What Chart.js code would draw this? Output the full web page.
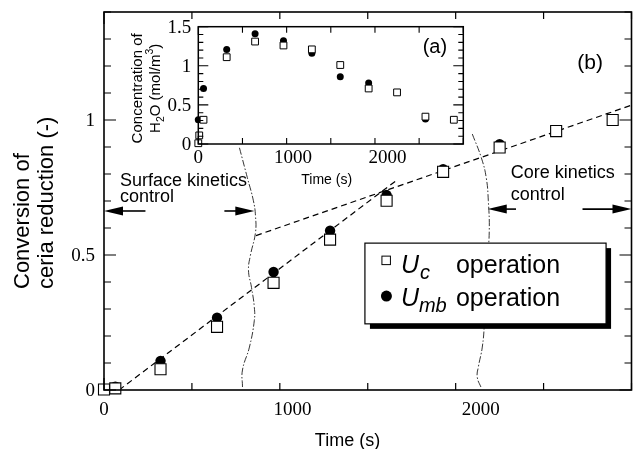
<!DOCTYPE html>
<html>
<head>
<meta charset="utf-8">
<script src="https://cdn.jsdelivr.net/npm/chart.js@4.4.0/dist/chart.umd.min.js"></script>
<style>
  html, body { margin: 0; padding: 0; background: #fff; }
  #wrap { position: relative; width: 633px; height: 449px; }
  #wrap canvas { position: absolute; left: 0; top: 0; }
</style>
</head>
<body>
<div id="wrap">
  <canvas id="main-chart" width="633" height="449"></canvas>
  <canvas id="inset-chart" width="633" height="449"></canvas>
</div>
<script>
// (b) conversion of ceria reduction vs time
const timeUc = [0, 60, 300, 600, 900, 1200, 1500, 1800, 2100, 2400, 2700];
const convUc = [0.002, 0.006, 0.077, 0.234, 0.397, 0.557, 0.701, 0.808, 0.898, 0.959, 1.0];
const timeUmb = [60, 300, 600, 900, 1200, 1500, 1800, 2100];
const convUmb = [0.012, 0.108, 0.268, 0.437, 0.59, 0.722, 0.818, 0.91];

// dashed fits for the two regimes
const surfaceFitTime = [80, 1550];
const surfaceFitConv = [0, 0.775];
const coreFitTime = [807, 2800];
const coreFitConv = [0.572, 1.055];

// dash-dot borders between the regimes
const surfaceEdgeTime = [719, 761, 793, 804, 804, 777, 767, 783, 798, 798, 772, 735, 735];
const surfaceEdgeConv = [0.897, 0.786, 0.701, 0.646, 0.583, 0.498, 0.443, 0.38, 0.306, 0.258, 0.159, 0.074, 0.011];
const coreEdgeTime = [1955, 2003, 2029, 2040, 2045, 2035, 2024, 2019, 2008, 1987, 1981, 2003];
const coreEdgeConv = [0.948, 0.86, 0.786, 0.701, 0.59, 0.48, 0.369, 0.247, 0.159, 0.085, 0.048, 0.007];

// (a) H2O concentration
const insetTimeUc = [0, 10, 55, 300, 600, 900, 1200, 1500, 1800, 2100, 2400, 2700];
const insetH2oUc = [0.01, 0.11, 0.31, 1.11, 1.31, 1.26, 1.21, 1.01, 0.71, 0.66, 0.35, 0.31];
const insetTimeUmb = [0, 55, 300, 600, 900, 1200, 1500, 1800, 2400];
const insetH2oUmb = [0.31, 0.71, 1.21, 1.41, 1.32, 1.16, 0.86, 0.78, 0.32];

// tick labels
const mainXLabels = [0, 1000, 2000];
const mainYLabels = [0, 0.5, 1];
const insetXLabels = [0, 1000, 2000];
const insetYLabels = [0, 0.5, 1, 1.5];

const SANS = '"Liberation Sans", Arial, sans-serif';
const SERIF = '"Liberation Serif", "Times New Roman", serif';

function pairs(xs, ys) {
  return xs.map((x, i) => ({ x, y: ys[i] }));
}

function isMultiple(v, step) {
  const r = v / step;
  return Math.abs(r - Math.round(r)) < 1e-6;
}

function lineSet(xs, ys, dash, width) {
  return {
    data: pairs(xs, ys),
    showLine: true,
    pointRadius: 0,
    borderColor: "#000",
    borderWidth: width,
    borderDash: dash,
    tension: 0,
  };
}

// box, inward ticks on all four sides and the tick labels
const framePlugin = {
  id: "frame",
  afterDatasetsDraw(chart, args, o) {
    const { ctx, chartArea: a } = chart;
    const sx = chart.scales.x;
    const sy = chart.scales.y;
    ctx.save();
    ctx.strokeStyle = "#000";
    ctx.lineWidth = o.tickWidth;
    ctx.beginPath();
    sx.ticks.forEach((t) => {
      const px = sx.getPixelForValue(t.value);
      const len = isMultiple(t.value, o.xMajor) ? o.xLen[0] : o.xLen[1];
      ctx.moveTo(px, a.bottom);
      ctx.lineTo(px, a.bottom - len);
      ctx.moveTo(px, a.top);
      ctx.lineTo(px, a.top + len);
    });
    sy.ticks.forEach((t) => {
      const py = sy.getPixelForValue(t.value);
      const len = isMultiple(t.value, o.yMajor) ? o.yLen[0] : o.yLen[1];
      ctx.moveTo(a.left, py);
      ctx.lineTo(a.left + len, py);
      ctx.moveTo(a.right, py);
      ctx.lineTo(a.right - len, py);
    });
    ctx.stroke();
    ctx.lineWidth = o.boxWidth;
    ctx.strokeRect(a.left, a.top, a.right - a.left, a.bottom - a.top);

    ctx.fillStyle = "#000";
    ctx.font = o.font;
    ctx.textAlign = "center";
    ctx.textBaseline = "alphabetic";
    o.xLabels.forEach((v) => {
      ctx.fillText(String(v), sx.getPixelForValue(v), a.bottom + o.xLabelGap);
    });
    ctx.textAlign = "right";
    ctx.textBaseline = "middle";
    o.yLabels.forEach((v) => {
      ctx.fillText(String(v), a.left - o.yLabelGap, sy.getPixelForValue(v) + 1);
    });
    ctx.restore();
  },
};

function drawArrow(ctx, x0, x1, y) {
  const dir = Math.sign(x1 - x0);
  const head = 19;
  const half = 4.5;
  ctx.beginPath();
  ctx.moveTo(x0, y);
  ctx.lineTo(x1 - dir * head * 0.7, y);
  ctx.stroke();
  ctx.beginPath();
  ctx.moveTo(x1, y);
  ctx.lineTo(x1 - dir * head, y - half);
  ctx.lineTo(x1 - dir * head, y + half);
  ctx.closePath();
  ctx.fill();
}

function rotatedText(ctx, str, x, y, align) {
  ctx.save();
  ctx.translate(x, y);
  ctx.rotate(-Math.PI / 2);
  ctx.textAlign = align;
  ctx.fillText(str, 0, 0);
  ctx.restore();
}

// arrows, regime names, panel tag, axis titles and the legend
const mainNotesPlugin = {
  id: "mainNotes",
  afterDraw(chart) {
    const { ctx } = chart;
    const sx = chart.scales.x;
    const sy = chart.scales.y;
    const X = (v) => sx.getPixelForValue(v);
    const Y = (v) => sy.getPixelForValue(v);
    ctx.save();
    ctx.fillStyle = "#000";
    ctx.strokeStyle = "#000";
    ctx.lineWidth = 1.6;

    drawArrow(ctx, X(220), X(0), Y(0.663));
    drawArrow(ctx, X(639), X(798), Y(0.663));
    drawArrow(ctx, X(2187), X(2037), Y(0.67));
    drawArrow(ctx, X(2540), X(2800), Y(0.67));

    ctx.font = "18px " + SANS;
    ctx.textAlign = "left";
    ctx.textBaseline = "alphabetic";
    ctx.fillText("Surface kinetics", X(85), Y(0.756));
    ctx.fillText("control", X(85), Y(0.695));
    ctx.fillText("Core kinetics", X(2159), Y(0.784));
    ctx.fillText("control", X(2159), Y(0.704));

    ctx.font = "21px " + SANS;
    ctx.textAlign = "center";
    ctx.textBaseline = "middle";
    ctx.fillText("(b)", X(2580), Y(1.21));

    // axis titles
    ctx.font = "18px " + SANS;
    ctx.textBaseline = "alphabetic";
    ctx.fillText("Time (s)", 347.5, 446);
    ctx.font = "22px " + SANS;
    rotatedText(ctx, "Conversion of", 28.5, 289, "left");
    rotatedText(ctx, "ceria reduction (-)", 52.5, 289, "left");

    // legend box with drop shadow
    const bl = X(1385), br = X(2665), bt = Y(0.544), bb = Y(0.245);
    ctx.fillRect(bl + 5, bt + 5, br - bl, bb - bt);
    ctx.fillStyle = "#fff";
    ctx.fillRect(bl, bt, br - bl, bb - bt);
    ctx.lineWidth = 1.2;
    ctx.strokeRect(bl, bt, br - bl, bb - bt);

    ctx.fillStyle = "#000";
    ctx.lineWidth = 1;
    ctx.strokeRect(bl + 17, bt + 13, 8.5, 8.5);
    ctx.beginPath();
    ctx.arc(bl + 21.5, bt + 53, 5.5, 0, Math.PI * 2);
    ctx.fill();

    const row1 = bt + 30;
    const row2 = bt + 63;
    ctx.textAlign = "left";
    ctx.font = "italic 25px " + SANS;
    ctx.fillText("U", bl + 36, row1);
    ctx.fillText("U", bl + 36, row2);
    ctx.font = "italic 20px " + SANS;
    ctx.fillText("c", bl + 55, row1 + 6);
    ctx.fillText("mb", bl + 54, row2 + 6);
    ctx.font = "25px " + SANS;
    ctx.fillText("operation", bl + 91, row1);
    ctx.fillText("operation", bl + 91, row2);
    ctx.restore();
  },
};

new Chart(document.getElementById("main-chart"), {
  type: "scatter",
  data: {
    datasets: [
      {
        label: "Uc operation",
        data: pairs(timeUc, convUc),
        pointStyle: "rect",
        pointRadius: 7.8,
        backgroundColor: "#fff",
        borderColor: "#000",
        borderWidth: 1.1,
        clip: false,
      },
      {
        label: "Umb operation",
        data: pairs(timeUmb, convUmb),
        pointStyle: "circle",
        pointRadius: 5.2,
        backgroundColor: "#000",
        borderColor: "#000",
        borderWidth: 0,
        clip: false,
      },
      lineSet(surfaceFitTime, surfaceFitConv, [6, 4], 1.2),
      lineSet(coreFitTime, coreFitConv, [6, 4], 1.2),
      Object.assign(lineSet(surfaceEdgeTime, surfaceEdgeConv, [7, 2, 1.5, 2], 0.8), { tension: 0.45 }),
      Object.assign(lineSet(coreEdgeTime, coreEdgeConv, [7, 2, 1.5, 2], 0.8), { tension: 0.45 }),
    ],
  },
  options: {
    responsive: false,
    animation: false,
    events: [],
    layout: { autoPadding: false, padding: { left: 0, top: 12, right: 1.5, bottom: 0 } },
    plugins: {
      legend: { display: false },
      tooltip: { enabled: false },
      frame: {
        tickWidth: 1.2,
        boxWidth: 1.6,
        xMajor: 1000,
        yMajor: 0.5,
        xLen: [12, 7],
        yLen: [12, 7],
        font: "19px " + SERIF,
        xLabels: mainXLabels,
        yLabels: mainYLabels,
        xLabelGap: 25,
        yLabelGap: 9,
      },
    },
    scales: {
      x: {
        type: "linear",
        min: 0,
        max: 2800,
        ticks: { display: false, stepSize: 500, includeBounds: false },
        grid: { display: false },
        border: { display: false },
        afterFit: (s) => { s.height = 59; },
      },
      y: {
        type: "linear",
        min: 0,
        max: 1.4,
        ticks: { display: false, stepSize: 0.1, includeBounds: false },
        grid: { display: false },
        border: { display: false },
        afterFit: (s) => { s.width = 104; },
      },
    },
  },
  plugins: [framePlugin, mainNotesPlugin],
});

// inset titles and panel tag
const insetNotesPlugin = {
  id: "insetNotes",
  afterDraw(chart) {
    const { ctx, chartArea: a } = chart;
    ctx.save();
    ctx.fillStyle = "#000";
    ctx.font = "20px " + SANS;
    ctx.textAlign = "center";
    ctx.textBaseline = "middle";
    ctx.fillText("(a)", chart.scales.x.getPixelForValue(2500), chart.scales.y.getPixelForValue(1.24));

    ctx.font = "14px " + SANS;
    ctx.textBaseline = "alphabetic";
    ctx.fillText("Time (s)", 326.7, 184);

    ctx.font = "15px " + SANS;
    rotatedText(ctx, "Concentration of", 142, (a.top + a.bottom) / 2 + 3, "center");

    // H2O (mol/m3) with sub/superscripts
    const parts = [
      ["H", 15, 0], ["2", 10.5, 4], ["O (mol/m", 15, 0], ["3", 10.5, -7], [")", 15, 0],
    ];
    let total = 0;
    parts.forEach(([s, size]) => {
      ctx.font = size + "px " + SANS;
      total += ctx.measureText(s).width;
    });
    ctx.translate(160, (a.top + a.bottom) / 2 + 3);
    ctx.rotate(-Math.PI / 2);
    ctx.textAlign = "left";
    let cx = -total / 2;
    parts.forEach(([s, size, dy]) => {
      ctx.font = size + "px " + SANS;
      ctx.fillText(s, cx, dy);
      cx += ctx.measureText(s).width;
    });
    ctx.restore();
  },
};

new Chart(document.getElementById("inset-chart"), {
  type: "scatter",
  data: {
    datasets: [
      {
        label: "Uc operation",
        data: pairs(insetTimeUc, insetH2oUc),
        pointStyle: "rect",
        pointRadius: 4.8,
        backgroundColor: "#fff",
        borderColor: "#000",
        borderWidth: 1,
        clip: false,
      },
      {
        label: "Umb operation",
        data: pairs(insetTimeUmb, insetH2oUmb),
        pointStyle: "circle",
        pointRadius: 3.5,
        backgroundColor: "#000",
        borderColor: "#000",
        borderWidth: 0,
        clip: false,
      },
    ],
  },
  options: {
    responsive: false,
    animation: false,
    events: [],
    layout: { autoPadding: false, padding: { left: 0, top: 26.7, right: 169.7, bottom: 0 } },
    plugins: {
      legend: { display: false },
      tooltip: { enabled: false },
      frame: {
        tickWidth: 1.1,
        boxWidth: 1.5,
        xMajor: 1000,
        yMajor: 0.5,
        xLen: [8, 6],
        yLen: [10, 5],
        font: "19px " + SERIF,
        xLabels: insetXLabels,
        yLabels: insetYLabels,
        xLabelGap: 19,
        yLabelGap: 7,
      },
    },
    scales: {
      x: {
        type: "linear",
        min: 0,
        max: 2800,
        ticks: { display: false, stepSize: 500, includeBounds: false },
        grid: { display: false },
        border: { display: false },
        afterFit: (s) => { s.height = 305; },
      },
      y: {
        type: "linear",
        min: 0,
        max: 1.5,
        ticks: { display: false, stepSize: 0.1, includeBounds: false },
        grid: { display: false },
        border: { display: false },
        afterFit: (s) => { s.width = 198.3; },
      },
    },
  },
  plugins: [framePlugin, insetNotesPlugin],
});
</script>
</body>
</html>
